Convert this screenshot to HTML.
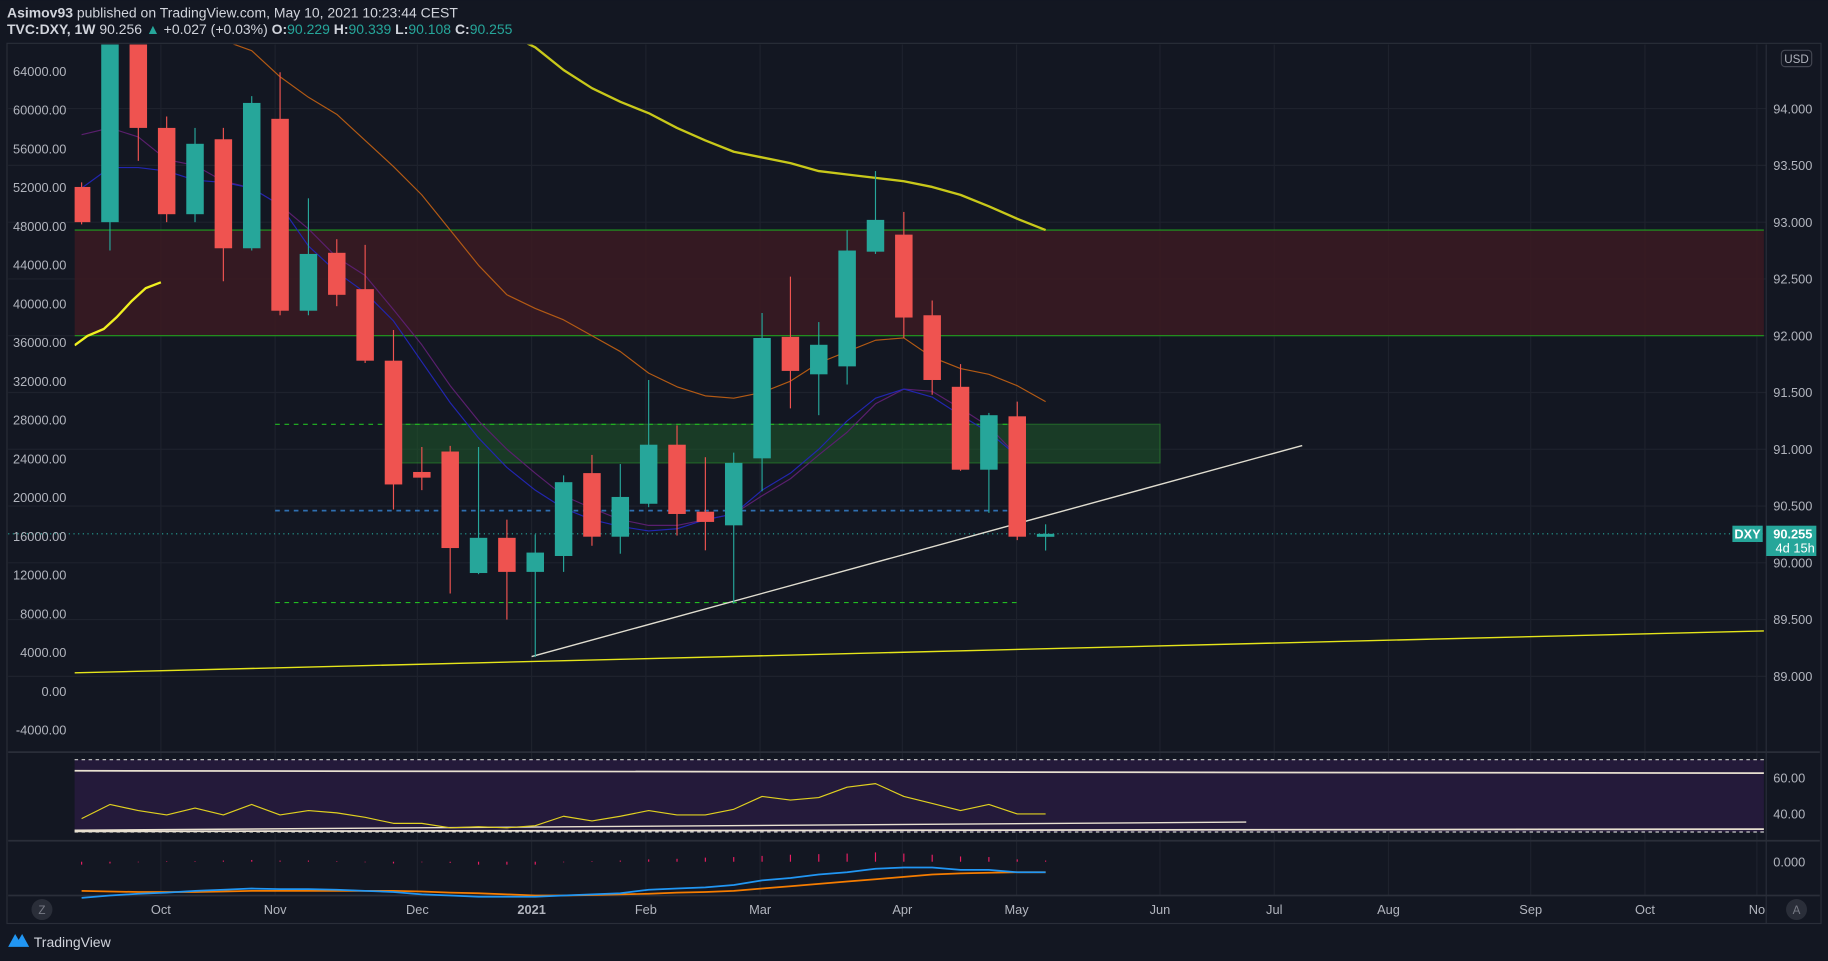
<!DOCTYPE html>
<html><head><meta charset="utf-8"><style>
html,body{margin:0;padding:0;background:#131722;overflow:hidden}
svg{display:block}
text{font-family:"Liberation Sans",sans-serif}
</style></head><body>
<svg id="c" width="1828" height="961" viewBox="0 0 1568 824" xmlns="http://www.w3.org/2000/svg">
<defs><clipPath id="pc"><rect x="64" y="38" width="1451" height="606"/></clipPath></defs>
<rect x="0" y="0" width="1568" height="824" fill="#131722"/>
<text x="6" y="15" font-size="12" fill="#d1d4dc"><tspan font-weight="bold">Asimov93</tspan> published on TradingView.com, May 10, 2021 10:23:44 CEST</text>
<text x="6" y="29" font-size="12" fill="#d1d4dc"><tspan font-weight="bold">TVC:DXY, 1W</tspan> 90.256 <tspan fill="#26a69a">▲</tspan> +0.027 (+0.03%) <tspan font-weight="bold">O:</tspan><tspan fill="#26a69a">90.229</tspan> <tspan font-weight="bold">H:</tspan><tspan fill="#26a69a">90.339</tspan> <tspan font-weight="bold">L:</tspan><tspan fill="#26a69a">90.108</tspan> <tspan font-weight="bold">C:</tspan><tspan fill="#26a69a">90.255</tspan></text>
<rect x="6" y="37" width="1556" height="755" fill="#131722" stroke="#2a2e39"/>
<g id="grid"></g><g id="main" clip-path="url(#pc)"></g><g id="rsi"></g><g id="macd"></g><g id="axes"></g>
<g><path d="M7 812 L13 801 L16 806 L19 801 L25 812 Z" fill="#2196f3"/><text x="29" y="812" font-size="12" fill="#d1d4dc">TradingView</text></g>
</svg>
<script>
// ---- data ----
const monthLabels=["Oct","Nov","Dec","2021","Feb","Mar","Apr","May","Jun","Jul","Aug","Sep","Oct","No"];
const monthX=[138,236,358,456,554,652,774,872,995,1093,1191,1313,1411,1507];
const opens =[93.31,93.00,94.58,93.83,93.07,93.73,92.77,93.91,92.22,92.73,92.41,91.78,90.80,90.98,89.91,90.22,89.92,90.06,90.79,90.23,90.52,91.04,90.45,90.33,90.92,91.99,91.66,91.73,92.74,92.89,92.18,91.55,90.82,91.29,90.229];
const closes=[93.00,94.75,93.83,93.07,93.69,92.77,94.05,92.22,92.72,92.36,91.78,90.69,90.75,90.13,90.22,89.92,90.09,90.71,90.23,90.58,91.04,90.43,90.36,90.88,91.98,91.69,91.92,92.75,93.02,92.16,91.61,90.82,91.30,90.23,90.255];
const highs =[93.35,94.95,94.65,93.93,93.83,93.83,94.11,94.32,93.21,92.85,92.80,92.05,91.02,91.03,91.02,90.38,90.25,90.77,90.95,90.87,91.61,91.21,90.93,90.97,92.20,92.52,92.12,92.93,93.45,93.09,92.31,91.75,91.32,91.42,90.339];
const lows  =[92.98,92.75,93.54,93.00,93.00,92.48,92.75,92.18,92.18,92.26,91.76,90.47,90.64,89.73,89.90,89.50,89.17,89.92,90.15,90.08,90.49,90.24,90.11,89.64,90.63,91.36,91.30,91.57,92.72,91.98,91.48,90.81,90.44,90.20,90.108];
const ma10=[93.30,93.48,93.48,93.45,93.37,93.35,93.30,93.15,92.79,92.56,92.38,92.13,91.77,91.41,91.10,90.84,90.64,90.48,90.38,90.32,90.28,90.30,90.38,90.43,90.64,90.79,91.00,91.25,91.45,91.53,91.46,91.30,91.15,90.94,null];
const ma20=[93.77,93.83,93.75,93.55,93.50,93.36,93.30,93.15,92.94,92.69,92.53,92.23,91.92,91.56,91.25,91.00,90.79,90.59,90.48,90.38,90.33,90.33,90.38,90.43,90.59,90.74,90.95,91.15,91.40,91.53,91.51,91.36,91.20,90.94,null];
const ma50=[null,null,null,null,null,94.60,94.51,94.28,94.10,93.95,93.72,93.49,93.24,92.93,92.62,92.36,92.24,92.14,92.00,91.86,91.67,91.55,91.47,91.45,91.50,91.60,91.76,91.86,91.96,91.98,91.81,91.71,91.66,91.56,91.42];
const ma200=[null,null,null,null,null,null,null,null,null,null,null,null,null,null,null,94.66,94.54,94.34,94.18,94.06,93.96,93.83,93.72,93.62,93.57,93.52,93.45,93.42,93.39,93.36,93.31,93.24,93.14,93.03,92.93];
const rsiVals=[37.4,45.2,41.9,39.4,43.2,39.4,45.2,39.4,41.9,40.6,38.1,34.8,34.8,32.3,32.9,32.3,33.5,38.7,36.1,38.7,41.9,39.4,39.4,42.6,49.7,47.7,49.0,54.8,56.8,49.7,45.8,41.9,45.2,40.0,40.0];
const macdLine=[-0.62,-0.58,-0.55,-0.53,-0.50,-0.48,-0.46,-0.47,-0.47,-0.48,-0.50,-0.52,-0.56,-0.58,-0.60,-0.60,-0.60,-0.58,-0.56,-0.54,-0.48,-0.46,-0.44,-0.40,-0.32,-0.28,-0.22,-0.18,-0.12,-0.10,-0.10,-0.14,-0.14,-0.18,-0.18];
const signalLine=[-0.50,-0.51,-0.52,-0.52,-0.52,-0.51,-0.50,-0.50,-0.50,-0.50,-0.50,-0.50,-0.51,-0.53,-0.54,-0.56,-0.58,-0.58,-0.57,-0.56,-0.55,-0.53,-0.52,-0.50,-0.46,-0.42,-0.38,-0.34,-0.30,-0.26,-0.22,-0.20,-0.19,-0.18,-0.18];
const histVals=[-0.05,-0.03,-0.01,0.01,0.01,0.02,0.03,0.02,0.02,0.01,-0.01,-0.03,-0.01,-0.02,-0.05,-0.05,-0.05,-0.01,0.01,0.02,0.04,0.05,0.07,0.08,0.10,0.12,0.13,0.14,0.16,0.14,0.12,0.09,0.08,0.04,0.02];
const priceTicks=[89.0,89.5,90.0,90.5,91.0,91.5,92.0,92.5,93.0,93.5,94.0];
const leftTicks=[64000,60000,56000,52000,48000,44000,40000,36000,32000,28000,24000,20000,16000,12000,8000,4000,0,-4000];
const lastPrice=90.255;
// ---- scales ----
const NS="http://www.w3.org/2000/svg";
const X0=70, DX=24.32;
const xi=i=>X0+i*DX;
const yP=p=>93+(94-p)*97.4;
const yL=v=>61+(64000-v)/4000*33.24;
const yR=v=>698-(v-40)*1.55;
const yM=v=>739-v*50;
function el(par,tag,at){const e=document.createElementNS(NS,tag);for(const k in at)e.setAttribute(k,at[k]);document.getElementById(par).appendChild(e);return e;}
function poly(par,arr,fy,col,w,name){let pts=[];arr.forEach((v,i)=>{if(v!==null)pts.push(xi(i).toFixed(1)+","+fy(v).toFixed(1));});const e=el(par,"polyline",{points:pts.join(" "),fill:"none",stroke:col,"stroke-width":w,"stroke-linejoin":"round"});return e;}
// grid
monthX.forEach(x=>{const g=el("grid","line",{x1:x,x2:x,y1:38,y2:768,stroke:"#1e222d"});});
priceTicks.forEach(p=>{const g=el("grid","line",{x1:7,x2:1515,y1:yP(p),y2:yP(p),stroke:"#1e222d"});});
[645,721,768].forEach(y=>{const g=el("grid","line",{x1:7,x2:1561,y1:y,y2:y,stroke:"#2a2e39","stroke-width":1.5});});
el("grid","line",{x1:1515,x2:1515,y1:38,y2:792,stroke:"#2a2e39"});
// zones
let z=el("main","rect",{x:64,y:yP(92.93),width:1449,height:yP(92.0)-yP(92.93),fill:"#3b1a22",opacity:0.85});

el("main","line",{x1:64,x2:1513,y1:yP(92.93),y2:yP(92.93),stroke:"#1f9e1f"});
el("main","line",{x1:64,x2:1513,y1:yP(92.0),y2:yP(92.0),stroke:"#1f9e1f"});
let gz=el("main","rect",{x:334,y:yP(91.22),width:661,height:yP(90.88)-yP(91.22),fill:"#1f5a2a",opacity:0.55,stroke:"#2ea02e"});

el("main","line",{x1:236,x2:873,y1:yP(91.22),y2:yP(91.22),stroke:"#22bb22","stroke-dasharray":"4 4"});
el("main","line",{x1:236,x2:873,y1:yP(89.65),y2:yP(89.65),stroke:"#22bb22","stroke-dasharray":"4 4"});
el("main","line",{x1:236,x2:873,y1:yP(90.46),y2:yP(90.46),stroke:"#2f6fb0","stroke-width":1.5,"stroke-dasharray":"4 4"});
let tl=el("main","line",{x1:456,y1:563,x2:1117,y2:382,stroke:"#e0ddd0","stroke-width":1.2});
let yl=el("main","line",{x1:64,y1:577,x2:1513,y2:541,stroke:"#e5e51a","stroke-width":1.2});
// MAs
poly("main",ma20,yP,"#5a1f6e",1,"ma-20");
poly("main",ma10,yP,"#2226b0",1,"ma-10");
poly("main",ma50,yP,"#b35a14",1,"ma-50");
poly("main",ma200,yP,"#c8c81a",2,"ma-200");
let lm=el("main","polyline",{points:"64,296 75,288 89,282 100,272 113,258 125,247 138,242",fill:"none",stroke:"#f0f020","stroke-width":2});
// candles
opens.forEach((o,i)=>{const c=closes[i],up=c>=o,col=up?"#26a69a":"#ef5350",x=xi(i);
 const w=el("main","line",{x1:x,x2:x,y1:yP(highs[i]),y2:yP(lows[i]),stroke:col});
 const t=yP(Math.max(o,c)),b=yP(Math.min(o,c));
 const r=el("main","rect",{x:x-7.5,y:t,width:15,height:Math.max(b-t,2),fill:col});});
el("grid","line",{x1:7,x2:1515,y1:yP(lastPrice),y2:yP(lastPrice),stroke:"#26a69a","stroke-dasharray":"1 3"});
// RSI
let rb=el("rsi","rect",{x:64,y:yR(70),width:1449,height:yR(30)-yR(70),fill:"#241a3a"});
el("rsi","line",{x1:64,x2:1513,y1:yR(70),y2:yR(70),stroke:"#ccc","stroke-dasharray":"3 3"});
el("rsi","line",{x1:64,x2:1513,y1:yR(30),y2:yR(30),stroke:"#ccc","stroke-dasharray":"3 3"});
el("rsi","line",{x1:64,x2:1513,y1:661,y2:663,stroke:"#e8e0d0","stroke-width":1.5});
el("rsi","line",{x1:64,x2:1513,y1:713,y2:711,stroke:"#e8e0d0","stroke-width":1.5});
el("rsi","line",{x1:64,x2:1069,y1:712,y2:705,stroke:"#e8e0d0","stroke-width":1.2});
poly("rsi",rsiVals,yR,"#e0d020",1,"rsi-line");
// MACD
histVals.forEach((v,i)=>{const h=el("macd","line",{x1:xi(i),x2:xi(i),y1:yM(0),y2:yM(v),stroke:"#e91e63"});});
poly("macd",signalLine,yM,"#f57c00",1.5,"macd-signal");
poly("macd",macdLine,yM,"#2196f3",1.5,"macd-line");
// axes labels
priceTicks.forEach(p=>{const t=el("axes","text",{x:1521,y:yP(p)+4,"font-size":11,fill:"#b2b5be"});t.textContent=p.toFixed(3);});
leftTicks.forEach(v=>{const t=el("axes","text",{x:57,y:yL(v)+4,"font-size":11,fill:"#b2b5be","text-anchor":"end"});t.textContent=v.toFixed(2);});
[[60,"60.00"],[40,"40.00"]].forEach(a=>{const t=el("axes","text",{x:1521,y:yR(a[0])+4,"font-size":11,fill:"#b2b5be"});t.textContent=a[1];});
{const t=el("axes","text",{x:1521,y:yM(0)+4,"font-size":11,fill:"#b2b5be"});t.textContent="0.000";}
monthLabels.forEach((m,i)=>{const t=el("axes","text",{x:monthX[i],y:784,"font-size":11,fill:"#b2b5be","text-anchor":"middle","font-weight":m==="2021"?"bold":"normal"});t.textContent=m;});
{const u=el("axes","rect",{x:1528,y:43,width:26,height:14,rx:3,fill:"#131722",stroke:"#434651"});
 const t=el("axes","text",{x:1541,y:54,"font-size":10,fill:"#b2b5be","text-anchor":"middle"});t.textContent="USD";}
{const y=yP(lastPrice);
 const a=el("axes","rect",{x:1486,y:y-7,width:26,height:14,fill:"#26a69a"});
 const t=el("axes","text",{x:1499,y:y+4,"font-size":11,fill:"#fff","text-anchor":"middle","font-weight":"bold"});t.textContent="DXY";
 const b=el("axes","rect",{x:1515,y:y-7,width:43,height:26,fill:"#26a69a"});
 const t1=el("axes","text",{x:1521,y:y+4,"font-size":11,fill:"#fff","font-weight":"bold"});t1.textContent="90.255";
 const t2=el("axes","text",{x:1523,y:y+16,"font-size":11,fill:"#fff"});t2.textContent="4d 15h";}
[[36,"Z"],[1541,"A"]].forEach(a=>{const c=el("axes","circle",{cx:a[0],cy:780,r:9,fill:"#2a2e39"});const t=el("axes","text",{x:a[0],y:784,"font-size":10,fill:"#787b86","text-anchor":"middle"});t.textContent=a[1];});
</script>
</body></html>
